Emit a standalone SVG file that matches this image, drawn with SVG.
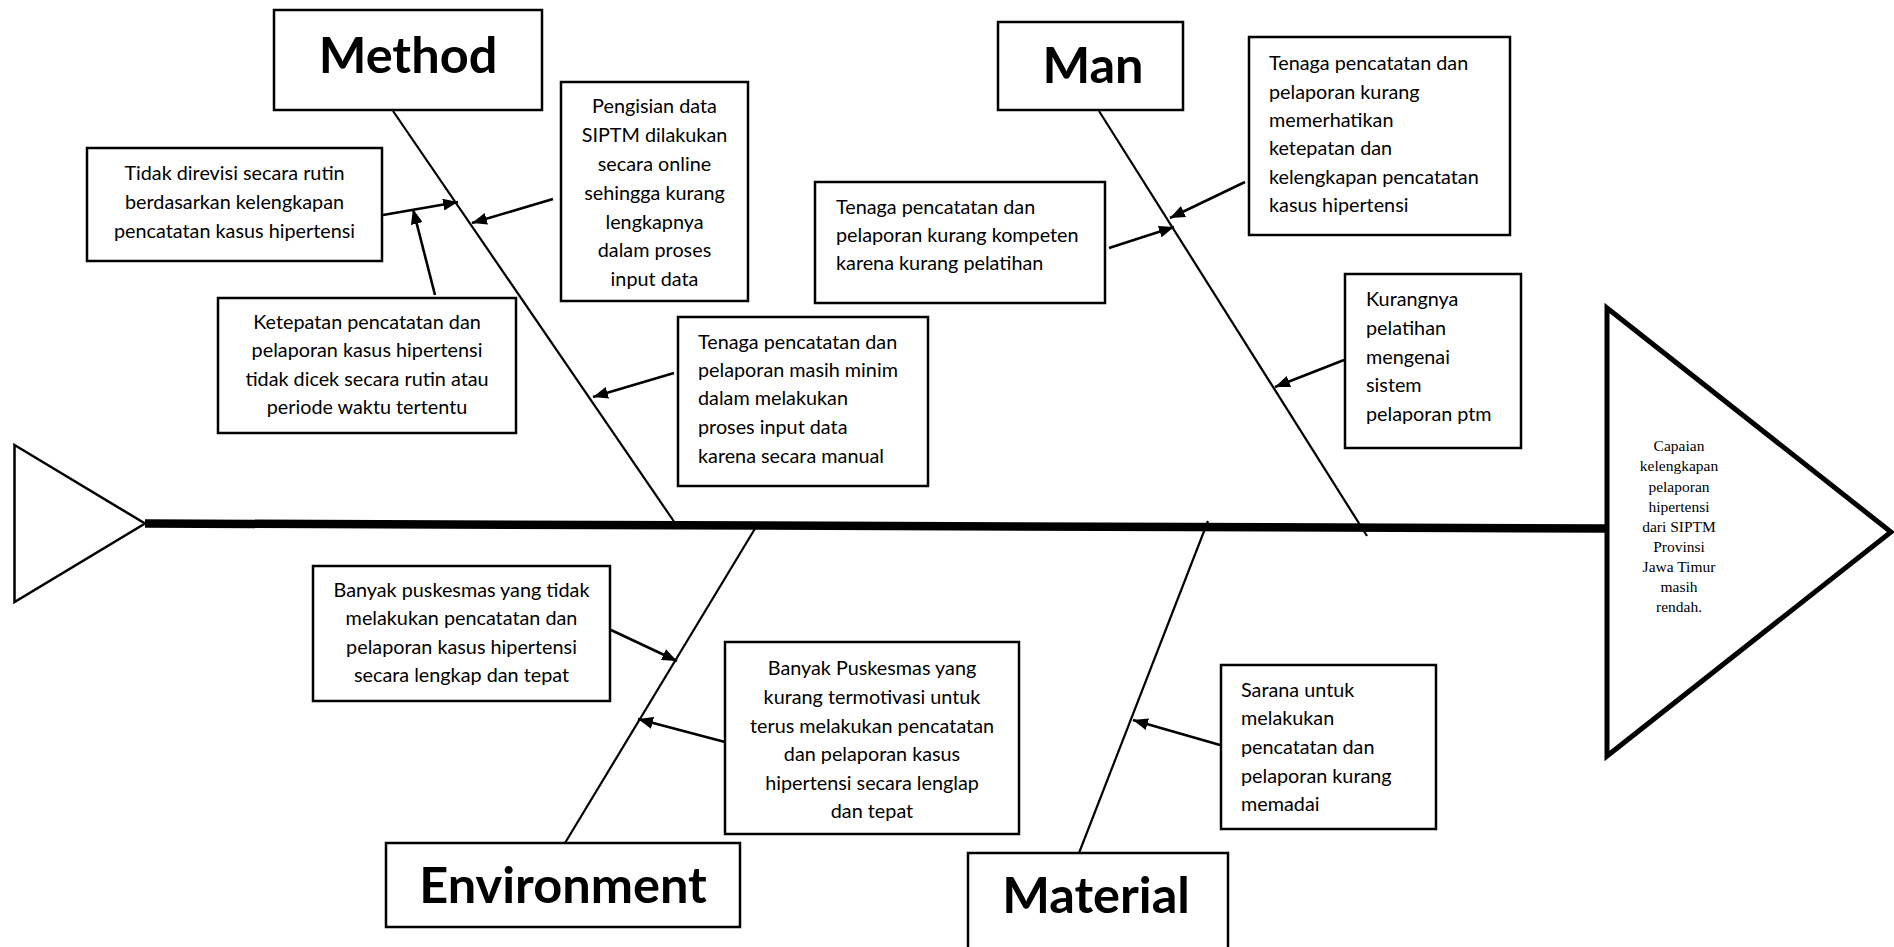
<svg xmlns="http://www.w3.org/2000/svg" width="1894" height="947" viewBox="0 0 1894 947">
<style>
.box{fill:#fff;stroke:#000;stroke-width:2.5}
.t{font-family:Lato,"Liberation Sans",sans-serif;font-size:19.8px;fill:#000}
.c{text-anchor:middle}
.h{font-family:Lato,"Liberation Sans",sans-serif;font-weight:bold;font-size:50.5px;fill:#000;text-anchor:middle}
.bone{stroke:#000;stroke-width:2.2;fill:none}
.arr{stroke:#000;stroke-width:2.6;fill:none;marker-end:url(#ah)}
.eff{font-family:"Liberation Serif","Times New Roman",serif;font-size:15.5px;fill:#000;text-anchor:middle}
</style>
<defs>
<marker id="ah" markerUnits="userSpaceOnUse" markerWidth="16" markerHeight="12" refX="15" refY="6" orient="auto">
<path d="M0,0 L15,6 L0,12 z" fill="#000"/>
</marker>
</defs>
<rect width="1894" height="947" fill="#fff"/>

<g id="connectors">
<line class="bone" x1="393" y1="111" x2="675" y2="523"/>
<line class="bone" x1="1099" y1="111" x2="1367" y2="536"/>
<line class="bone" x1="759" y1="522" x2="565" y2="843"/>
<line class="bone" x1="1208" y1="521" x2="1079" y2="853"/>
<line x1="145" y1="523.5" x2="1607" y2="528.5" stroke="#000" stroke-width="8.5"/>
<line class="arr" x1="383" y1="215" x2="458" y2="202"/>
<line class="arr" x1="435" y1="295" x2="413" y2="209"/>
<line class="arr" x1="553" y1="199" x2="472" y2="223"/>
<line class="arr" x1="674" y1="373" x2="593" y2="397"/>
<line class="arr" x1="1245" y1="182" x2="1170" y2="218"/>
<line class="arr" x1="1109" y1="248" x2="1174" y2="227"/>
<line class="arr" x1="1344" y1="360" x2="1275" y2="387"/>
<line class="arr" x1="611" y1="630" x2="677" y2="661"/>
<line class="arr" x1="725" y1="742" x2="638" y2="719"/>
<line class="arr" x1="1220" y1="745" x2="1133" y2="720"/>
</g>

<g id="tail">
<polygon points="14.5,445 145,523.5 14.5,602" fill="#fff" stroke="#000" stroke-width="2.5"/>
</g>

<g id="head">
<polygon points="1607,308 1891,532 1607,756" fill="#fff" stroke="#000" stroke-width="5" stroke-linejoin="miter"/>
<text class="eff" x="1679"><tspan x="1679" y="451">Capaian</tspan><tspan x="1679" y="471">kelengkapan</tspan><tspan x="1679" y="491.5">pelaporan</tspan><tspan x="1679" y="511.5">hipertensi</tspan><tspan x="1679" y="531.5">dari SIPTM</tspan><tspan x="1679" y="551.5">Provinsi</tspan><tspan x="1679" y="571.5">Jawa Timur</tspan><tspan x="1679" y="591.5">masih</tspan><tspan x="1679" y="611.5">rendah.</tspan></text>
</g>

<g id="method">
<rect class="box" x="274" y="10" width="268" height="100"/>
<text class="h" x="408" y="73">Method</text>
</g>
<g id="man">
<rect class="box" x="998" y="22" width="185" height="88"/>
<text class="h" x="1093" y="83">Man</text>
</g>
<g id="environment">
<rect class="box" x="386" y="843" width="354" height="84"/>
<text class="h" x="563" y="903">Environment</text>
</g>
<g id="material">
<rect class="box" x="968" y="853" width="260" height="110"/>
<text class="h" x="1096" y="913">Material</text>
</g>

<g id="m1">
<rect class="box" x="87" y="148" width="295" height="113"/>
<text class="t c"><tspan x="234.5" y="180">Tidak direvisi secara rutin</tspan><tspan x="234.5" y="209">berdasarkan kelengkapan</tspan><tspan x="234.5" y="238">pencatatan kasus hipertensi</tspan></text>
</g>
<g id="m2">
<rect class="box" x="561" y="82" width="187" height="219"/>
<text class="t c"><tspan x="654.5" y="113">Pengisian data</tspan><tspan x="654.5" y="142">SIPTM dilakukan</tspan><tspan x="654.5" y="171">secara online</tspan><tspan x="654.5" y="200">sehingga kurang</tspan><tspan x="654.5" y="228.5">lengkapnya</tspan><tspan x="654.5" y="257">dalam proses</tspan><tspan x="654.5" y="285.5">input data</tspan></text>
</g>
<g id="m3">
<rect class="box" x="218" y="298" width="298" height="135"/>
<text class="t c"><tspan x="367" y="328.5">Ketepatan pencatatan dan</tspan><tspan x="367" y="357">pelaporan kasus hipertensi</tspan><tspan x="367" y="385.5">tidak dicek secara rutin atau</tspan><tspan x="367" y="414">periode waktu tertentu</tspan></text>
</g>
<g id="m4">
<rect class="box" x="678" y="317" width="250" height="169"/>
<text class="t"><tspan x="698" y="348.5">Tenaga pencatatan dan</tspan><tspan x="698" y="377">pelaporan masih minim</tspan><tspan x="698" y="405">dalam melakukan</tspan><tspan x="698" y="433.5">proses input data</tspan><tspan x="698" y="462.5">karena secara manual</tspan></text>
</g>

<g id="p1">
<rect class="box" x="1249" y="37" width="261" height="198"/>
<text class="t"><tspan x="1269" y="70">Tenaga pencatatan dan</tspan><tspan x="1269" y="98.5">pelaporan kurang</tspan><tspan x="1269" y="127">memerhatikan</tspan><tspan x="1269" y="155">ketepatan dan</tspan><tspan x="1269" y="183.5">kelengkapan pencatatan</tspan><tspan x="1269" y="212">kasus hipertensi</tspan></text>
</g>
<g id="p2">
<rect class="box" x="815" y="182" width="290" height="121"/>
<text class="t"><tspan x="836" y="213.5">Tenaga pencatatan dan</tspan><tspan x="836" y="242">pelaporan kurang kompeten</tspan><tspan x="836" y="270">karena kurang pelatihan</tspan></text>
</g>
<g id="p3">
<rect class="box" x="1345" y="274" width="176" height="174"/>
<text class="t"><tspan x="1366" y="306">Kurangnya</tspan><tspan x="1366" y="334.5">pelatihan</tspan><tspan x="1366" y="363.5">mengenai</tspan><tspan x="1366" y="392">sistem</tspan><tspan x="1366" y="420.5">pelaporan ptm</tspan></text>
</g>

<g id="e1">
<rect class="box" x="313" y="566" width="297" height="135"/>
<text class="t c"><tspan x="461.5" y="597">Banyak puskesmas yang tidak</tspan><tspan x="461.5" y="624.5">melakukan pencatatan dan</tspan><tspan x="461.5" y="653.5">pelaporan kasus hipertensi</tspan><tspan x="461.5" y="682">secara lengkap dan tepat</tspan></text>
</g>
<g id="e2">
<rect class="box" x="725" y="642" width="294" height="192"/>
<text class="t c"><tspan x="872" y="675">Banyak Puskesmas yang</tspan><tspan x="872" y="703.5">kurang termotivasi untuk</tspan><tspan x="872" y="732.5">terus melakukan pencatatan</tspan><tspan x="872" y="761">dan pelaporan kasus</tspan><tspan x="872" y="789.5">hipertensi secara lenglap</tspan><tspan x="872" y="818">dan tepat</tspan></text>
</g>

<g id="s1">
<rect class="box" x="1221" y="665" width="215" height="164"/>
<text class="t"><tspan x="1241" y="697">Sarana untuk</tspan><tspan x="1241" y="725">melakukan</tspan><tspan x="1241" y="753.5">pencatatan dan</tspan><tspan x="1241" y="782.5">pelaporan kurang</tspan><tspan x="1241" y="811">memadai</tspan></text>
</g>
</svg>
